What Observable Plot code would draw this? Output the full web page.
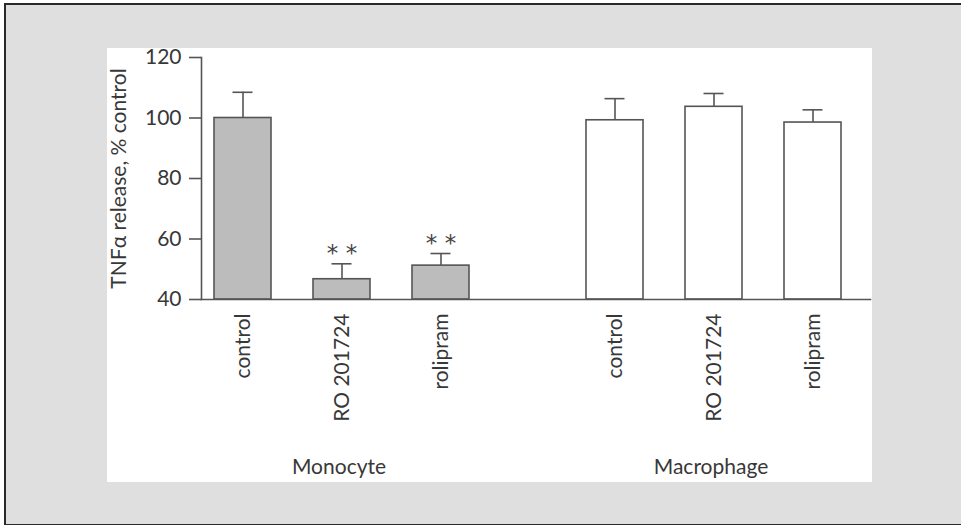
<!DOCTYPE html>
<html>
<head>
<meta charset="utf-8">
<script src="https://cdn.jsdelivr.net/npm/d3@7"></script>
<script src="https://cdn.jsdelivr.net/npm/@observablehq/plot@0.6"></script>
<style>
  html, body { margin: 0; padding: 0; background: #ffffff; width: 961px; height: 525px; overflow: hidden; }
  #outer { position: absolute; left: 4px; top: 3px; width: 990px; height: 519px;
           border-left: 2px solid #2a2a2a; border-top: 2px solid #2a2a2a; border-bottom: 2px solid #2a2a2a;
           background: #dfdfdf; }
  #panel { position: absolute; left: 107px; top: 48px; width: 765px; height: 434px; background: #ffffff; }
  #panel svg { display: block; position: absolute; left: 0; top: -10px; overflow: visible; }
</style>
</head>
<body>
<div id="outer"></div>
<div id="panel"></div>
<script>
const groups = ["Monocyte", "Monocyte", "Monocyte", "Macrophage", "Macrophage", "Macrophage"];
const treatments = ["control", "RO 201724", "rolipram", "control", "RO 201724", "rolipram"];
const means = [100, 46.7, 51.2, 99.25, 103.7, 98.5];
const errorTops = [108.5, 51.8, 55.2, 106.4, 108.1, 102.7];
const significance = ["", "* *", "* *", "", "", ""];
const groupOrder = ["Monocyte", "Macrophage"];
const treatmentOrder = ["control", "RO 201724", "rolipram"];
const yTicks = [40, 60, 80, 100, 120];

const data = groups.map((g, i) => ({
  group: g, treatment: treatments[i], mean: means[i], err: errorTops[i], sig: significance[i]
}));

const ink = "#555555";
const chart = Plot.plot({
  width: 765,
  height: 444,
  marginTop: 19,
  marginBottom: 183,
  marginLeft: 93,
  marginRight: 1,
  style: { fontFamily: "Lato, 'Open Sans', sans-serif", fontSize: "21px", color: "#383838", background: "transparent" },
  fx: { domain: groupOrder, paddingInner: 0.201, paddingOuter: 0 },
  x: { domain: treatmentOrder, paddingInner: 0.42, paddingOuter: 0.2, align: 0.3125 },
  y: { domain: [40, 120] },
  color: { domain: groupOrder, range: ["#bcbcbc", "#ffffff"] },
  marks: [
    Plot.barY(data, { fx: "group", x: "treatment", y1: 40, y2: "mean", fill: "group", stroke: ink, strokeWidth: 1.6 }),
    Plot.ruleX(data, { fx: "group", x: "treatment", y1: "mean", y2: "err", stroke: ink, strokeWidth: 1.6 }),
    Plot.tickY(data, { fx: "group", x: "treatment", y: "err", insetLeft: 18.5, insetRight: 18.5, stroke: ink, strokeWidth: 1.6 }),
    Plot.text(data, { fx: "group", x: "treatment", y: "err", text: "sig", dy: -10, fontSize: 23,
                      fontFamily: "'DejaVu Sans', sans-serif", fill: "#444" }),
    Plot.frame({ anchor: "left", facet: "super", stroke: ink, strokeWidth: 1.6 }),
    Plot.frame({ anchor: "bottom", facet: "super", stroke: ink, strokeWidth: 1.6 }),
    Plot.axisY({ ticks: yTicks, tickSize: 12, tickPadding: 8, stroke: ink, strokeWidth: 1.6,
                 label: "TNFα release, % control", labelAnchor: "center", labelArrow: "none", labelOffset: 90 }),
    Plot.axisX({ anchor: "bottom", tickRotate: -90, tickSize: 0, tickPadding: 14, label: null }),
    Plot.axisFx({ anchor: "bottom", tickSize: 0, tickPadding: 160, dx: -11, label: null })
  ]
});
document.getElementById("panel").appendChild(chart);
</script>
</body>
</html>
